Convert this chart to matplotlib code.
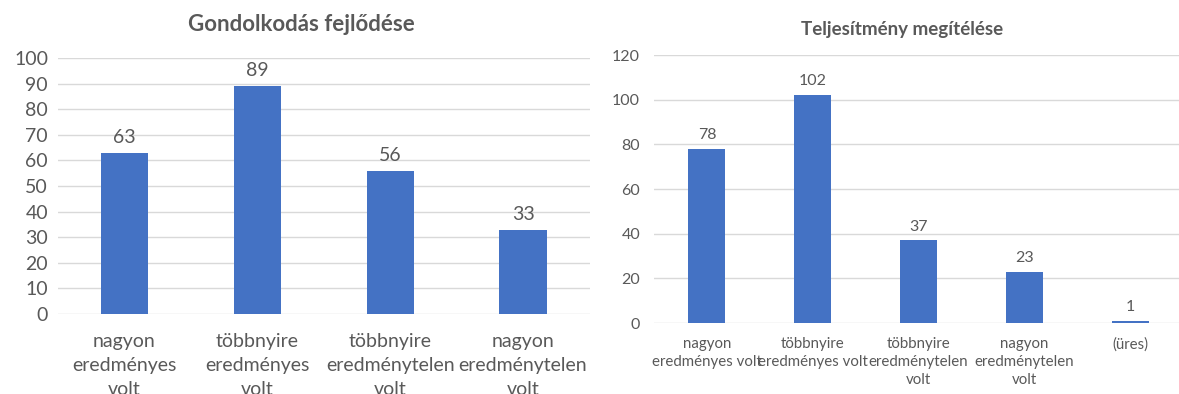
import numpy as np
import matplotlib
matplotlib.use('Agg')
import matplotlib.pyplot as plt

plt.rcParams['font.family'] = ['Lato', 'DejaVu Sans']

# adatok - bal oldali diagram
cim1 = 'Gondolkodás fejlődése'
kat1 = ['nagyon\neredményes\nvolt', 'többnyire\neredményes\nvolt',
        'többnyire\neredménytelen\nvolt', 'nagyon\neredménytelen\nvolt']
ert1 = [63, 89, 56, 33]
yticks1 = [0, 10, 20, 30, 40, 50, 60, 70, 80, 90, 100]

# adatok - jobb oldali diagram
cim2 = 'Teljesítmény megítélése'
kat2 = ['nagyon\neredményes volt', 'többnyire\neredményes volt',
        'többnyire\neredménytelen\nvolt', 'nagyon\neredménytelen\nvolt', '(üres)']
ert2 = [78, 102, 37, 23, 1]
yticks2 = [0, 20, 40, 60, 80, 100, 120]

kek = '#4472C4'
szurke = '#595959'
racs = '#D9D9D9'

fig = plt.figure(figsize=(11.79, 3.94), dpi=100)

def diagram(ax, kat, ert, yticks, fs, xfs, szel, tpad, xpad, vpad, lsp):
    x = np.arange(len(kat))
    ax.bar(x, ert, width=szel, color=kek, zorder=3)
    for xi, v in zip(x, ert):
        ax.annotate(str(v), (xi, v), xytext=(0, vpad), textcoords='offset points',
                    ha='center', va='bottom', fontsize=fs, color=szurke)
    ax.set_xlim(-0.5, len(kat) - 0.5)
    ax.set_ylim(yticks[0], yticks[-1])
    ax.set_yticks(yticks)
    ax.set_xticks(x)
    ax.set_xticklabels(kat, linespacing=lsp)
    ax.tick_params(axis='y', length=0, pad=tpad, labelsize=fs, labelcolor=szurke)
    ax.tick_params(axis='x', length=0, pad=xpad, labelsize=xfs, labelcolor=szurke)
    ax.grid(axis='y', color=racs, lw=1, zorder=0)
    for s in ax.spines.values():
        s.set_visible(False)

ax1 = fig.add_axes([0.049, 0.203, 0.451, 0.650])
diagram(ax1, kat1, ert1, yticks1, 14, 14, 0.355, 7, 14, 5, 1.5)
fig.text(0.256, 0.937, cim1, ha='center', va='center', fontsize=16,
         fontweight='bold', color=szurke)

ax2 = fig.add_axes([0.5547, 0.180, 0.4487, 0.680])
diagram(ax2, kat2, ert2, yticks2, 11.5, 10.8, 0.35, 10, 10, 5, 1.35)
fig.text(0.765, 0.924, cim2, ha='center', va='center', fontsize=13.5,
         fontweight='bold', color=szurke)

fig.savefig('out.png', dpi=100)
